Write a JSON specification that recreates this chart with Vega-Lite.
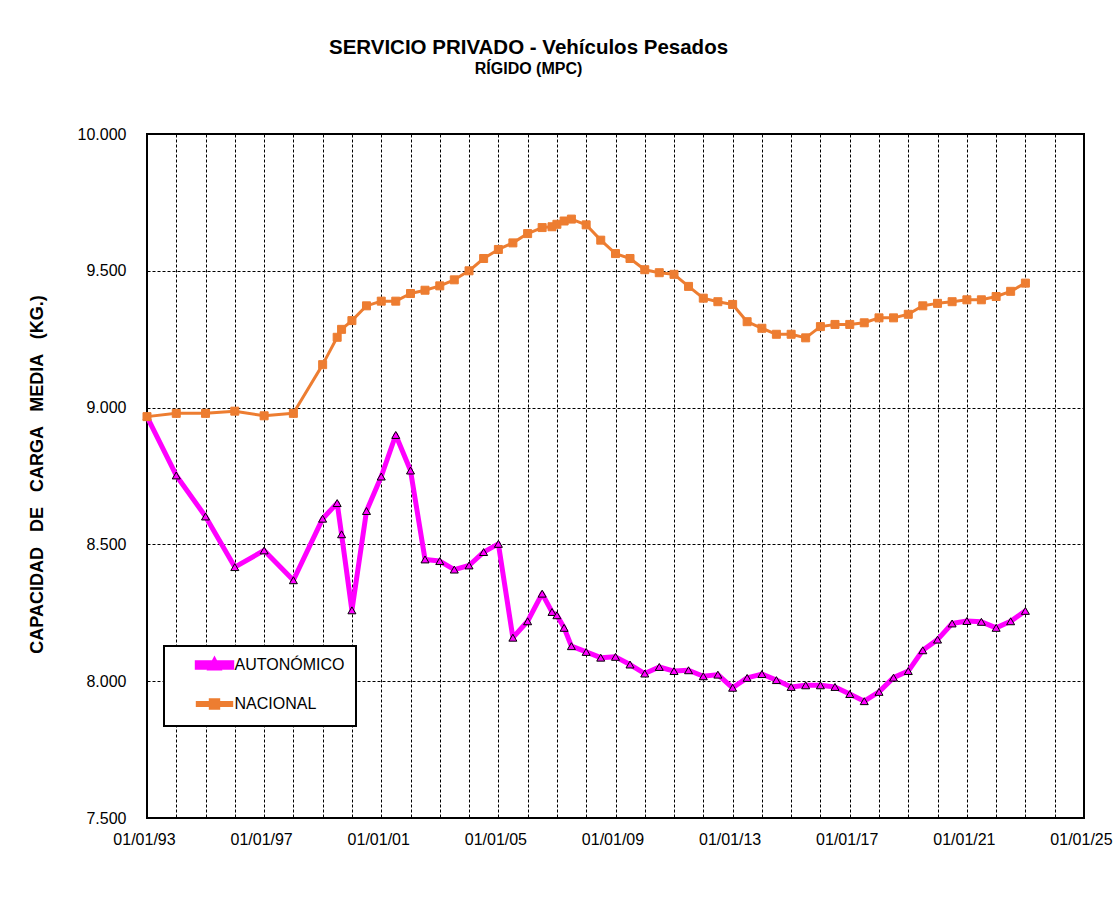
{
  "$schema": "https://vega.github.io/schema/vega-lite/v6.json",
  "width": 937,
  "height": 684,
  "autosize": {"type": "none"},
  "padding": {"left": 147, "top": 134, "right": 34, "bottom": 80},
  "background": "white",
  "title": {
    "text": "SERVICIO PRIVADO - Vehículos Pesados",
    "subtitle": "RÍGIDO (MPC)",
    "anchor": "middle",
    "dx": -87,
    "offset": 49,
    "font": "Liberation Sans",
    "fontSize": 20.5,
    "fontWeight": "bold",
    "color": "black",
    "subtitleFont": "Liberation Sans",
    "subtitleFontSize": 16,
    "subtitleFontWeight": "bold",
    "subtitleColor": "black",
    "subtitlePadding": 3
  },
  "data": {
    "values": [
      {"fecha": "1993-01-01", "serie": "NACIONAL", "valor": 8967},
      {"fecha": "1994-01-01", "serie": "NACIONAL", "valor": 8979},
      {"fecha": "1995-01-01", "serie": "NACIONAL", "valor": 8979},
      {"fecha": "1996-01-01", "serie": "NACIONAL", "valor": 8987},
      {"fecha": "1997-01-01", "serie": "NACIONAL", "valor": 8970},
      {"fecha": "1998-01-01", "serie": "NACIONAL", "valor": 8979},
      {"fecha": "1999-01-01", "serie": "NACIONAL", "valor": 9157},
      {"fecha": "1999-07-01", "serie": "NACIONAL", "valor": 9257},
      {"fecha": "1999-08-25", "serie": "NACIONAL", "valor": 9286},
      {"fecha": "2000-01-01", "serie": "NACIONAL", "valor": 9318},
      {"fecha": "2000-07-01", "serie": "NACIONAL", "valor": 9372},
      {"fecha": "2001-01-01", "serie": "NACIONAL", "valor": 9389},
      {"fecha": "2001-07-01", "serie": "NACIONAL", "valor": 9389},
      {"fecha": "2002-01-01", "serie": "NACIONAL", "valor": 9417},
      {"fecha": "2002-07-01", "serie": "NACIONAL", "valor": 9429},
      {"fecha": "2003-01-01", "serie": "NACIONAL", "valor": 9445},
      {"fecha": "2003-07-01", "serie": "NACIONAL", "valor": 9467},
      {"fecha": "2004-01-01", "serie": "NACIONAL", "valor": 9500},
      {"fecha": "2004-07-01", "serie": "NACIONAL", "valor": 9545},
      {"fecha": "2005-01-01", "serie": "NACIONAL", "valor": 9578},
      {"fecha": "2005-07-01", "serie": "NACIONAL", "valor": 9602},
      {"fecha": "2006-01-01", "serie": "NACIONAL", "valor": 9636},
      {"fecha": "2006-07-01", "serie": "NACIONAL", "valor": 9658},
      {"fecha": "2006-11-01", "serie": "NACIONAL", "valor": 9661},
      {"fecha": "2007-01-01", "serie": "NACIONAL", "valor": 9670},
      {"fecha": "2007-04-01", "serie": "NACIONAL", "valor": 9682},
      {"fecha": "2007-07-01", "serie": "NACIONAL", "valor": 9689},
      {"fecha": "2008-01-01", "serie": "NACIONAL", "valor": 9668},
      {"fecha": "2008-07-01", "serie": "NACIONAL", "valor": 9612},
      {"fecha": "2009-01-01", "serie": "NACIONAL", "valor": 9563},
      {"fecha": "2009-07-01", "serie": "NACIONAL", "valor": 9545},
      {"fecha": "2010-01-01", "serie": "NACIONAL", "valor": 9504},
      {"fecha": "2010-07-01", "serie": "NACIONAL", "valor": 9493},
      {"fecha": "2011-01-01", "serie": "NACIONAL", "valor": 9487},
      {"fecha": "2011-07-01", "serie": "NACIONAL", "valor": 9443},
      {"fecha": "2012-01-01", "serie": "NACIONAL", "valor": 9400},
      {"fecha": "2012-07-01", "serie": "NACIONAL", "valor": 9387},
      {"fecha": "2013-01-01", "serie": "NACIONAL", "valor": 9377},
      {"fecha": "2013-07-01", "serie": "NACIONAL", "valor": 9314},
      {"fecha": "2014-01-01", "serie": "NACIONAL", "valor": 9290},
      {"fecha": "2014-07-01", "serie": "NACIONAL", "valor": 9268},
      {"fecha": "2015-01-01", "serie": "NACIONAL", "valor": 9268},
      {"fecha": "2015-07-01", "serie": "NACIONAL", "valor": 9255},
      {"fecha": "2016-01-01", "serie": "NACIONAL", "valor": 9296},
      {"fecha": "2016-07-01", "serie": "NACIONAL", "valor": 9304},
      {"fecha": "2017-01-01", "serie": "NACIONAL", "valor": 9304},
      {"fecha": "2017-07-01", "serie": "NACIONAL", "valor": 9310},
      {"fecha": "2018-01-01", "serie": "NACIONAL", "valor": 9328},
      {"fecha": "2018-07-01", "serie": "NACIONAL", "valor": 9328},
      {"fecha": "2019-01-01", "serie": "NACIONAL", "valor": 9341},
      {"fecha": "2019-07-01", "serie": "NACIONAL", "valor": 9372},
      {"fecha": "2020-01-01", "serie": "NACIONAL", "valor": 9381},
      {"fecha": "2020-07-01", "serie": "NACIONAL", "valor": 9387},
      {"fecha": "2021-01-01", "serie": "NACIONAL", "valor": 9394},
      {"fecha": "2021-07-01", "serie": "NACIONAL", "valor": 9394},
      {"fecha": "2022-01-01", "serie": "NACIONAL", "valor": 9406},
      {"fecha": "2022-07-01", "serie": "NACIONAL", "valor": 9425},
      {"fecha": "2023-01-01", "serie": "NACIONAL", "valor": 9455},
      {"fecha": "1993-01-01", "serie": "AUTONÓMICO", "valor": 8967},
      {"fecha": "1994-01-01", "serie": "AUTONÓMICO", "valor": 8752},
      {"fecha": "1995-01-01", "serie": "AUTONÓMICO", "valor": 8602},
      {"fecha": "1996-01-01", "serie": "AUTONÓMICO", "valor": 8417},
      {"fecha": "1997-01-01", "serie": "AUTONÓMICO", "valor": 8478},
      {"fecha": "1998-01-01", "serie": "AUTONÓMICO", "valor": 8369},
      {"fecha": "1999-01-01", "serie": "AUTONÓMICO", "valor": 8594},
      {"fecha": "1999-07-01", "serie": "AUTONÓMICO", "valor": 8651},
      {"fecha": "1999-08-25", "serie": "AUTONÓMICO", "valor": 8537},
      {"fecha": "2000-01-01", "serie": "AUTONÓMICO", "valor": 8259},
      {"fecha": "2000-07-01", "serie": "AUTONÓMICO", "valor": 8622},
      {"fecha": "2001-01-01", "serie": "AUTONÓMICO", "valor": 8748},
      {"fecha": "2001-07-01", "serie": "AUTONÓMICO", "valor": 8900},
      {"fecha": "2002-01-01", "serie": "AUTONÓMICO", "valor": 8770},
      {"fecha": "2002-07-01", "serie": "AUTONÓMICO", "valor": 8445},
      {"fecha": "2003-01-01", "serie": "AUTONÓMICO", "valor": 8439},
      {"fecha": "2003-07-01", "serie": "AUTONÓMICO", "valor": 8408},
      {"fecha": "2004-01-01", "serie": "AUTONÓMICO", "valor": 8423},
      {"fecha": "2004-07-01", "serie": "AUTONÓMICO", "valor": 8472},
      {"fecha": "2005-01-01", "serie": "AUTONÓMICO", "valor": 8502},
      {"fecha": "2005-07-01", "serie": "AUTONÓMICO", "valor": 8159},
      {"fecha": "2006-01-01", "serie": "AUTONÓMICO", "valor": 8219},
      {"fecha": "2006-07-01", "serie": "AUTONÓMICO", "valor": 8320},
      {"fecha": "2006-11-01", "serie": "AUTONÓMICO", "valor": 8253},
      {"fecha": "2007-01-01", "serie": "AUTONÓMICO", "valor": 8241},
      {"fecha": "2007-04-01", "serie": "AUTONÓMICO", "valor": 8195},
      {"fecha": "2007-07-01", "serie": "AUTONÓMICO", "valor": 8128},
      {"fecha": "2008-01-01", "serie": "AUTONÓMICO", "valor": 8107},
      {"fecha": "2008-07-01", "serie": "AUTONÓMICO", "valor": 8086},
      {"fecha": "2009-01-01", "serie": "AUTONÓMICO", "valor": 8089},
      {"fecha": "2009-07-01", "serie": "AUTONÓMICO", "valor": 8061},
      {"fecha": "2010-01-01", "serie": "AUTONÓMICO", "valor": 8028},
      {"fecha": "2010-07-01", "serie": "AUTONÓMICO", "valor": 8052},
      {"fecha": "2011-01-01", "serie": "AUTONÓMICO", "valor": 8037},
      {"fecha": "2011-07-01", "serie": "AUTONÓMICO", "valor": 8040},
      {"fecha": "2012-01-01", "serie": "AUTONÓMICO", "valor": 8018},
      {"fecha": "2012-07-01", "serie": "AUTONÓMICO", "valor": 8024},
      {"fecha": "2013-01-01", "serie": "AUTONÓMICO", "valor": 7976},
      {"fecha": "2013-07-01", "serie": "AUTONÓMICO", "valor": 8012},
      {"fecha": "2014-01-01", "serie": "AUTONÓMICO", "valor": 8026},
      {"fecha": "2014-07-01", "serie": "AUTONÓMICO", "valor": 8004},
      {"fecha": "2015-01-01", "serie": "AUTONÓMICO", "valor": 7979},
      {"fecha": "2015-07-01", "serie": "AUTONÓMICO", "valor": 7985},
      {"fecha": "2016-01-01", "serie": "AUTONÓMICO", "valor": 7985},
      {"fecha": "2016-07-01", "serie": "AUTONÓMICO", "valor": 7979},
      {"fecha": "2017-01-01", "serie": "AUTONÓMICO", "valor": 7953},
      {"fecha": "2017-07-01", "serie": "AUTONÓMICO", "valor": 7927},
      {"fecha": "2018-01-01", "serie": "AUTONÓMICO", "valor": 7961},
      {"fecha": "2018-07-01", "serie": "AUTONÓMICO", "valor": 8013},
      {"fecha": "2019-01-01", "serie": "AUTONÓMICO", "valor": 8037},
      {"fecha": "2019-07-01", "serie": "AUTONÓMICO", "valor": 8113},
      {"fecha": "2020-01-01", "serie": "AUTONÓMICO", "valor": 8152},
      {"fecha": "2020-07-01", "serie": "AUTONÓMICO", "valor": 8211},
      {"fecha": "2021-01-01", "serie": "AUTONÓMICO", "valor": 8220},
      {"fecha": "2021-07-01", "serie": "AUTONÓMICO", "valor": 8217},
      {"fecha": "2022-01-01", "serie": "AUTONÓMICO", "valor": 8195},
      {"fecha": "2022-07-01", "serie": "AUTONÓMICO", "valor": 8219},
      {"fecha": "2023-01-01", "serie": "AUTONÓMICO", "valor": 8257}
    ]
  },
  "encoding": {
    "x": {
      "field": "fecha",
      "type": "temporal",
      "scale": {
        "type": "utc",
        "domain": [
          {"year": 1993, "month": 1, "date": 1, "utc": true},
          {"year": 2025, "month": 1, "date": 1, "utc": true}
        ],
        "nice": false
      },
      "axis": {
        "title": null,
        "domain": false,
        "ticks": false,
        "grid": true,
        "gridColor": "black",
        "gridDash": [3, 2],
        "gridWidth": 1,
        "gridOpacity": 1,
        "tickCount": {"interval": "year", "step": 1},
        "labelExpr": "(utcyear(datum.value) - 1993) % 4 == 0 ? utcFormat(datum.value, '%d/%m/%y') : ''",
        "labelOverlap": false,
        "labelFlush": false,
        "labelFont": "Liberation Sans",
        "labelFontSize": 16,
        "labelColor": "black",
        "labelPadding": 13,
        "labelOffset": -3
      }
    },
    "y": {
      "field": "valor",
      "type": "quantitative",
      "scale": {"domain": [7500, 10000], "nice": false, "zero": false},
      "axis": {
        "title": "CAPACIDAD \u00a0\u00a0DE \u00a0\u00a0CARGA \u00a0\u00a0MEDIA \u00a0\u00a0(KG.)",
        "titleFont": "Liberation Sans",
        "titleFontSize": 18,
        "titleFontWeight": "bold",
        "titleColor": "black",
        "titleX": -110,
        "titleY": 340,
        "titleAlign": "center",
        "titleBaseline": "middle",
        "titleAngle": -90,
        "domain": false,
        "ticks": false,
        "grid": true,
        "gridColor": "black",
        "gridDash": [3, 2],
        "gridWidth": 1,
        "gridOpacity": 1,
        "values": [7500, 8000, 8500, 9000, 9500, 10000],
        "labelExpr": "replace(format(datum.value, ','), ',', '.')",
        "labelFont": "Liberation Sans",
        "labelFontSize": 16,
        "labelColor": "black",
        "labelPadding": 21
      }
    }
  },
  "layer": [
    {
      "mark": {"type": "line", "strokeJoin": "round"},
      "encoding": {
        "color": {
          "field": "serie",
          "type": "nominal",
          "scale": {"domain": ["AUTONÓMICO", "NACIONAL"], "range": ["#FF00FF", "#ED7D31"]},
          "legend": {
            "orient": "none",
            "legendX": 17,
            "legendY": 512,
            "title": null,
            "padding": 11,
            "strokeColor": "black",
            "fillColor": "white",
            "labelFont": "Liberation Sans",
            "labelFontSize": 16,
            "labelColor": "black",
            "symbolSize": 64,
            "symbolStrokeWidth": 0,
            "symbolOffset": 31.5,
            "labelOffset": 12,
            "rowPadding": 15,
            "encode": {
              "symbols": {
                "update": {
                  "shape": {"signal": "datum.value === 'AUTONÓMICO' ? 'M-4.3,-0.55H4.3V0.55H-4.3ZM0,-1.05L0.95,0.75H-0.95Z' : 'M-4.3,-0.35H4.3V0.35H-4.3ZM-1.05,-1.05H1.05V1.05H-1.05Z'"},
                  "size": {"value": 64},
                  "fill": {"signal": "datum.value === 'AUTONÓMICO' ? '#FF00FF' : '#ED7D31'"},
                  "stroke": {"value": "transparent"},
                  "strokeWidth": {"value": 0},
                  "opacity": {"value": 1}
                }
              },
              "legend": {
                "update": {"strokeWidth": {"value": 2}}
              }
            }
          }
        },
        "strokeWidth": {
          "field": "serie",
          "type": "nominal",
          "scale": {"domain": ["AUTONÓMICO", "NACIONAL"], "range": [5, 3]},
          "legend": null
        }
      }
    },
    {
      "transform": [{"filter": "datum.serie === 'AUTONÓMICO'"}],
      "mark": {"type": "point", "shape": "triangle-up", "filled": true, "fill": "#FF00FF", "stroke": "black", "strokeWidth": 1, "size": 64, "opacity": 1}
    },
    {
      "transform": [{"filter": "datum.serie === 'NACIONAL'"}],
      "mark": {"type": "point", "shape": "square", "filled": true, "fill": "#ED7D31", "stroke": "#ED7D31", "strokeWidth": 1, "size": 64, "opacity": 1}
    }
  ],
  "config": {
    "view": {"stroke": "black", "strokeWidth": 2}
  }
}
